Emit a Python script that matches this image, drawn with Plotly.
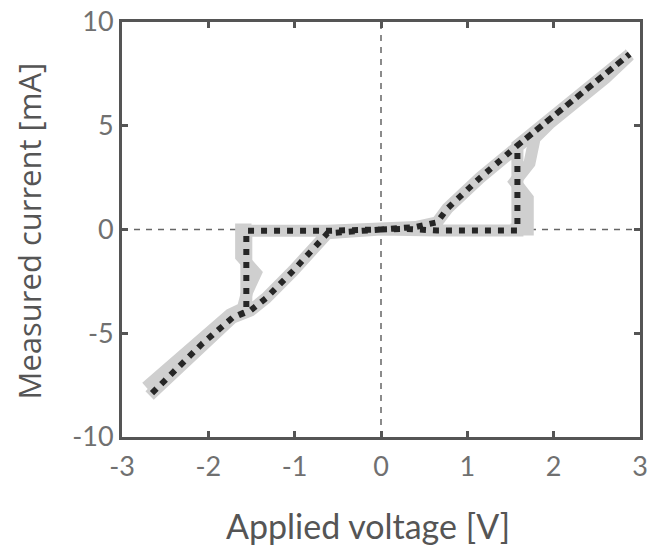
import plotly.graph_objects as go

# Main measured sweep (vertices)
v_main = [0.0, 0.3, 0.65, 1.0, 1.3, 1.58, 1.58, 2.0, 2.5, 2.88,
          2.5, 2.0, 1.58, 1.15, 0.77, 0.65, 0.4, 0.0,
          -0.3, -0.62, -1.0, -1.3, -1.56, -1.56, -1.72, -2.07, -2.4, -2.68,
          -2.4, -2.07, -1.72, -1.51, -1.33, -1.02, -0.62, -0.3, 0.0]
i_main = [0.0, 0.03, -0.05, -0.05, -0.05, -0.05, 4.05, 5.45, 7.1, 8.45,
          7.1, 5.45, 4.05, 2.5, 1.02, 0.35, 0.12, 0.0,
          -0.05, -0.06, -0.06, -0.06, -0.06, -3.95, -4.25, -5.5, -6.8, -8.0,
          -6.8, -5.5, -4.25, -3.9, -3.3, -2.0, -0.18, -0.08, 0.0]

# Other measured cycles (grey envelope)
v_pos_alt = [1.5, 1.7, 1.7, 1.55, 1.72, 1.78, 1.95, 2.3, 2.6, 2.88]
i_pos_alt = [0.0, 0.0, 1.5, 2.3, 3.2, 4.4, 5.1, 6.2, 7.3, 8.4]
v_neg_alt = [-1.5, -1.62, -1.62, -1.45, -1.55, -1.6, -1.75, -2.0, -2.3, -2.55, -2.72]
i_neg_alt = [0.0, 0.0, -1.3, -2.1, -3.0, -3.8, -4.1, -5.0, -6.0, -6.9, -7.6]

x_ticks = [-3, -2, -1, 0, 1, 2, 3]
y_ticks = [-10, -5, 0, 5, 10]

grey = "#cfcfcf"
fig = go.Figure()
fig.add_trace(go.Scatter(x=v_main, y=i_main, mode="lines",
                         line=dict(color=grey, width=12), hoverinfo="skip"))
fig.add_trace(go.Scatter(x=v_pos_alt, y=i_pos_alt, mode="lines",
                         line=dict(color=grey, width=12), hoverinfo="skip"))
fig.add_trace(go.Scatter(x=v_neg_alt, y=i_neg_alt, mode="lines",
                         line=dict(color=grey, width=12), hoverinfo="skip"))
fig.add_trace(go.Scatter(x=v_main, y=i_main, mode="lines",
                         line=dict(color="#262626", width=6, dash="6px,7px")))

axis_common = dict(showgrid=False, zeroline=False, showline=True, mirror="ticks",
                   linecolor="#555555", linewidth=3, ticks="inside", ticklen=6,
                   tickwidth=3, tickcolor="#555555", automargin=False,
                   tickfont=dict(family="Lato, Open Sans, sans-serif", size=27, color="#707070"))

fig.update_layout(
    width=648, height=554,
    margin=dict(l=122, r=8, t=22, b=117),
    paper_bgcolor="white", plot_bgcolor="white",
    showlegend=False,
    xaxis=dict(range=[-3, 3], tickvals=x_ticks, ticktext=[str(t) for t in x_ticks],
               ticklabelstandoff=4, **axis_common),
    yaxis=dict(range=[-10, 10], tickvals=y_ticks, ticktext=[str(t) for t in y_ticks],
               **axis_common),
    annotations=[
        dict(text="Applied voltage [V]", xref="paper", yref="paper", x=0.5, y=0,
             xanchor="center", yanchor="middle", xshift=-13, yshift=-88, showarrow=False,
             font=dict(family="Lato, sans-serif", size=34, color="#555555")),
        dict(text="Measured current [mA]", xref="paper", yref="paper", x=0, y=0.5,
             xanchor="center", yanchor="middle", xshift=-94, yshift=-2, textangle=-90,
             showarrow=False,
             font=dict(family="Open Sans, sans-serif", size=31, color="#555555")),
    ],
    shapes=[
        dict(type="line", xref="x", yref="paper", x0=0, x1=0, y0=0, y1=1,
             line=dict(color="#666666", width=1.5, dash="6px,6px"), layer="below"),
        dict(type="line", xref="paper", yref="y", x0=0, x1=1, y0=0, y1=0,
             line=dict(color="#666666", width=1.5, dash="6px,6px"), layer="below"),
    ],
)

fig.write_html("out.html")
